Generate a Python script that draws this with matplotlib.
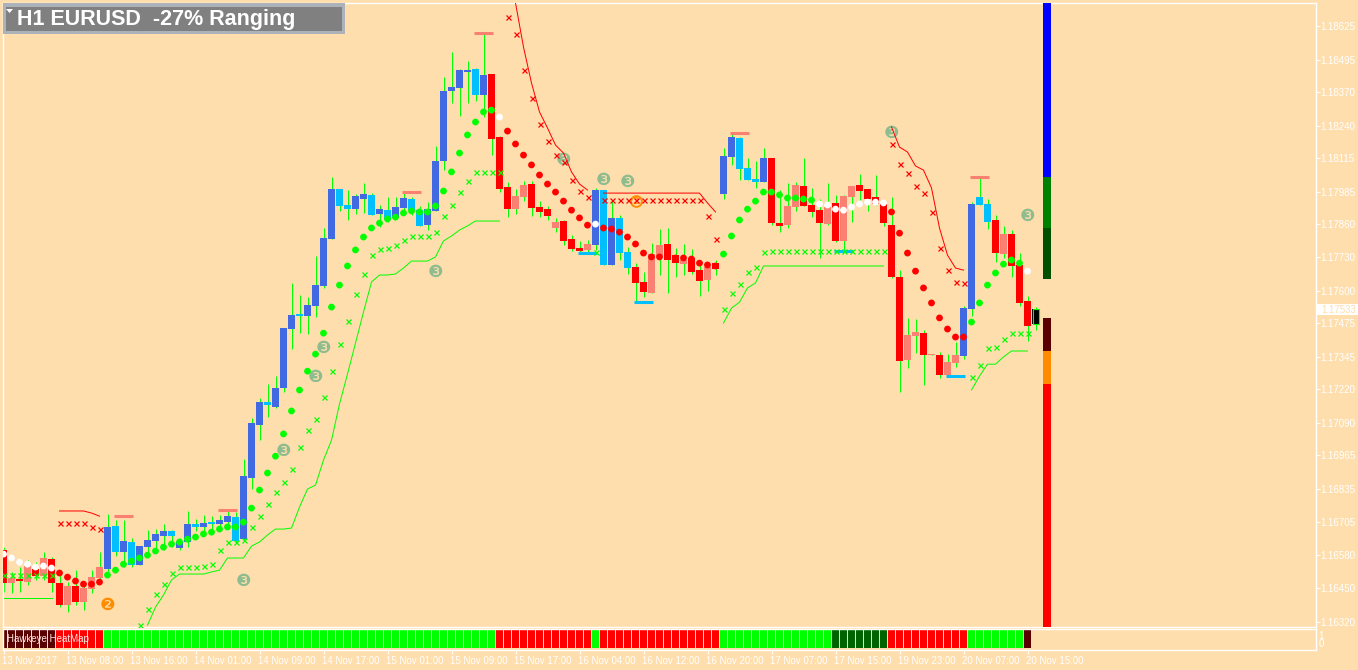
import matplotlib
matplotlib.use('Agg')
import matplotlib.pyplot as plt
from matplotlib.patches import Rectangle, Polygon
from matplotlib.transforms import ScaledTranslation
import numpy as np

W, H = 1358, 670

# candles, prices in 1e-5 units, one entry per H1 bar
candle_top = [
    116598,116489,116485,116536,116524,116567,116563,116470,116458,116458,
    116451,116493,116532,116687,116691,116632,116629,116613,116636,116660,
    116671,116671,116632,116698,116698,116702,116706,116714,116729,116725,
    116884,117089,117170,117170,117225,117457,117507,117511,117546,117623,
    117805,117995,117995,117933,117968,117975,117972,117917,117913,117925,
    117960,117956,117913,117917,118103,118374,118389,118455,118455,118459,
    118436,118440,118196,118002,117968,118010,118014,117925,117917,117867,
    117871,117801,117766,117782,117991,117991,117883,117883,117751,117693,
    117635,117743,117778,117782,117739,117720,117728,117681,117693,117708,
    118122,118196,118192,118076,118033,118115,118115,117863,117929,118010,
    118006,117933,117913,117925,117941,117968,118006,118010,117995,117964,
    117937,117855,117654,117430,117441,117437,117356,117352,117325,117352,
    117534,117937,117964,117937,117875,117821,117821,117701,117561,117530]
candle_bottom = [
    116470,116470,116478,116474,116497,116497,116470,116385,116385,116396,
    116396,116447,116489,116524,116590,116590,116540,116540,116609,116632,
    116652,116652,116605,116629,116687,116687,116698,116698,116706,116632,
    116640,116876,117081,117159,117151,117225,117453,117503,117503,117542,
    117619,117801,117929,117917,117917,117956,117894,117898,117875,117883,
    117921,117913,117852,117855,117910,118103,118374,118386,118448,118359,
    118359,118188,117995,117917,117917,117964,117921,117906,117890,117844,
    117794,117763,117755,117759,117778,117701,117701,117747,117689,117631,
    117596,117592,117735,117720,117708,117704,117674,117639,117643,117685,
    117975,118119,118072,118030,118022,118022,117863,117852,117855,117925,
    117929,117906,117863,117859,117794,117794,117964,117987,117956,117937,
    117863,117654,117329,117333,117426,117352,117352,117275,117275,117321,
    117348,117530,117933,117867,117747,117743,117697,117554,117465,117472]
candle_high = [
    116609,116513,116532,116559,116551,116590,116571,116513,116474,116520,
    116474,116520,116590,116737,116714,116714,116644,116613,116675,116679,
    116698,116675,116644,116749,116718,116733,116729,116733,116756,116745,
    116950,117109,117186,117240,117271,117457,117631,117585,117577,117735,
    117844,118041,117995,117991,117975,118018,117979,117933,117964,117964,
    117987,117964,117929,117944,118161,118428,118525,118459,118490,118463,
    118598,118440,118200,118022,117995,118026,118026,117948,117929,117883,
    117875,117817,117794,117797,117999,117991,117952,117894,117770,117708,
    117674,117786,117840,117844,117766,117782,117763,117701,117712,117720,
    118153,118211,118196,118115,118103,118153,118115,117991,118018,118022,
    118115,117999,117956,118018,117972,117972,118006,118053,117995,118049,
    117937,117964,117681,117496,117492,117449,117356,117364,117356,117403,
    117542,117944,118041,117956,117894,117852,117836,117747,117581,117538]
candle_low = [
    116435,116431,116435,116462,116482,116482,116435,116377,116358,116385,
    116365,116431,116470,116501,116574,116532,116532,116540,116586,116605,
    116598,116609,116598,116609,116671,116667,116675,116675,116687,116629,
    116636,116834,117023,117112,117147,117209,117376,117437,117434,117499,
    117612,117801,117910,117875,117898,117902,117894,117848,117867,117879,
    117913,117894,117852,117836,117910,118068,118328,118277,118328,118335,
    118273,118126,117983,117886,117898,117948,117890,117886,117875,117828,
    117778,117755,117747,117747,117759,117701,117701,117720,117666,117557,
    117577,117592,117662,117592,117654,117662,117666,117581,117600,117662,
    117956,118088,118030,118030,117999,118022,117855,117828,117844,117910,
    117929,117886,117728,117855,117790,117755,117867,117952,117910,117933,
    117852,117650,117209,117302,117360,117236,117352,117263,117275,117306,
    117337,117503,117933,117840,117712,117728,117654,117542,117406,117449]
# R red, S salmon, B blue, C sky, K the live bar
candle_kind = ("RSRSRSRRSRSSS" "BCBCBBBBCBBCBCBBC" "BBBCBBBCBBBBCCBBCBCBBCCBBBBBBCB"
               "RRRSSRRRSRRRS" "BCBCC" "RRSSRRSRRSR" "BBCCCB"
               "RRSSRRRSRSSRRRRRRSSRSRSS" "BBCCRSRRRK")

# dots, one per bar except the last one
dot_price = [
    116582,116567,116551,116543,116532,116536,116528,116509,116493,116478,
    116466,116466,116474,116501,116520,116543,116555,116567,116578,116594,
    116609,116621,116629,116640,116648,116660,116667,116679,116687,116687,
    116706,116760,116830,116896,116961,117047,117136,117217,117290,117356,
    117437,117538,117623,117697,117759,117809,117844,117863,117879,117886,
    117902,117910,117906,117906,117929,117987,118061,118134,118204,118254,
    118293,118300,118273,118219,118169,118126,118088,118049,118014,117983,
    117948,117913,117883,117855,117859,117844,117840,117828,117809,117782,
    117747,117732,117732,117739,117728,117728,117724,117708,117701,117697,
    117743,117813,117875,117917,117948,117983,117983,117972,117960,117960,
    117956,117952,117937,117933,117917,117913,117925,117937,117944,117944,
    117941,117906,117824,117747,117677,117612,117554,117496,117453,117422,
    117422,117480,117554,117623,117670,117704,117720,117708,117677]
dot_runs = [(7,'W'),(6,'R'),(49,'L'),(1,'W'),(11,'R'),(1,'W'),(15,'R'),(12,'L'),(9,'W'),(10,'R'),(7,'L'),(1,'W')]

# small crosses
buy_cross_bars = list(range(0,7)) + list(range(17,63)) + [74] + list(range(90,111)) + list(range(121,129))
buy_cross_price = [116501]*7 + [
    116307,116369,116427,116466,116509,116532,116532,116532,116536,116543,116598,
    116629,116629,116636,116687,116729,116776,116822,116861,116911,116996,
    117062,117105,117190,117290,117395,117484,117588,117666,117739,117763,117766,
    117778,117797,117813,117813,117813,117828,117890,117933,117983,118026,
    118061,118061,118061,118061] + [117751] + [
    117530,117592,117627,117674,117693,117751] + [117755]*15 + [
    117267,117314,117379,117383,117414,117437,117437,117437]
sell_cross_bars = list(range(7,13)) + list(range(63,74)) + list(range(75,90)) + list(range(111,121))
sell_cross_price = [116702,116702,116702,116702,116687,116679,
    118660,118595,118455,118347,118246,118180,118126,118099,118030,117987,117964] + [117952]*13 + [
    117890,117801,
    118169,118091,118057,118006,117979,117906,117766,117681,117635,117631]

# stop lines, each piece is (first bar, prices)
lime_lines = [
    (0, [116412]*7),
    (18, [116307,116377,116424,116482,116505,116505,116505,116505,116513,116520,116567,116567,
          116567,116613,116629,116656,116679,116679,116683,116764,116834,116849,116946,117023,
          117163,117279,117399,117519,117635,117662,117662,117666,117689,117716,117716,117716,
          117732,117794,117813,117836,117852,117871,117871,117871,117871]),
    (90, [117476,117534,117557,117612,117631] + [117697]*16),
    (121, [117217,117271,117317,117317,117345,117368,117368,117368]),
]
red_lines = [
    (7, [116749,116749,116749,116749,116741,116729]),
    (64, [118715,118544,118405,118293,118231,118165,118134,118061,118014,117991]),
    (75, [117979]*13 + [117941,117906]),
    (111, [118235,118157,118138,118084,118068,117999,117844,117739,117689,117681]),
]

# short flat marks above highs and below lows
top_mark_bars = [15, 28, 51, 60, 92, 122]
top_mark_price = [116729, 116752, 117983, 118598, 118211, 118041]
low_mark_bars = [73, 80, 105, 119]
low_mark_price = [117747, 117557, 117755, 117271]

# numbered signals
green_three_bars = [30, 35, 39, 40, 54, 70, 75, 78, 111, 128]
green_three_price = [116478, 116981, 117267, 117379, 117674, 118107, 118030, 118022, 118211, 117890]
orange_two_bars = [13, 79]
orange_two_price = [116385, 117948]

# strength column on the right: (price from, price to, colour)
strength_edges = [118716, 118041, 117844, 117646]
strength_colors = ['#0000FF', '#008000', '#005000']
weak_edges = [117496, 117368, 117240, 116302]
weak_colors = ['#5A0000', '#FF8C00', '#FF0000']

# heatmap panel
heat_runs = [(7,'D'),(6,'R'),(49,'L'),(12,'R'),(1,'L'),(15,'R'),(14,'L'),(7,'G'),(10,'R'),(7,'L'),(1,'D')]

price_ticks = ['1.18625','1.18495','1.18370','1.18240','1.18115','1.17985','1.17860','1.17730','1.17600',
               '1.17475','1.17345','1.17220','1.17090','1.16965','1.16835','1.16705','1.16580','1.16450','1.16320']
time_labels = ['13 Nov 2017','13 Nov 08:00','13 Nov 16:00','14 Nov 01:00','14 Nov 09:00','14 Nov 17:00',
               '15 Nov 01:00','15 Nov 09:00','15 Nov 17:00','16 Nov 04:00','16 Nov 12:00','16 Nov 20:00',
               '17 Nov 07:00','17 Nov 15:00','19 Nov 23:00','20 Nov 07:00','20 Nov 15:00']
last_price = 1.17533

BG = '#FFDEAD'
LIME = '#00FF00'
RED = '#FF0000'
candle_colors = {'R': RED, 'S': '#FA8072', 'B': '#4169E1', 'C': '#00BFFF', 'K': '#000000'}
dot_colors = {'W': '#FFFFFF', 'R': RED, 'L': LIME}
heat_colors = {'D': '#5A0000', 'R': RED, 'L': LIME, 'G': '#006400'}
TICKFONT = {'family': 'Liberation Sans', 'size': 7, 'color': 'white'}


def expand(runs, table):
    out = []
    for n, k in runs:
        out += [table[k]] * n
    return out


def pts(v):
    return np.array(v) / 1e5


def axes_box(left, top, right, bottom):
    return [left / W, 1 - bottom / H, (right - left) / W, (bottom - top) / H]


fig = plt.figure(figsize=(W / 100, H / 100), dpi=100, facecolor=BG)
ax = fig.add_axes(axes_box(2.5, 2.5, 1315.5, 626.5), facecolor=BG)
ax.set_xlim(-0.125, 164.0)
ax.set_ylim(1.16302, 1.187165)

bars = np.arange(len(candle_top))

### wicks then bodies
ax.vlines(bars, pts(candle_low), pts(candle_high), colors=LIME, lw=0.72, zorder=2)
body_colors = [candle_colors[k] for k in candle_kind]
heights = pts(candle_top) - pts(candle_bottom)
ax.bar(bars, heights, bottom=pts(candle_bottom), width=0.875, color=body_colors, lw=0,
       antialiased=False, zorder=3)
# the live bar has a lime outline
ax.bar(bars[-1], heights[-1], bottom=pts(candle_bottom)[-1], width=0.75, facecolor='black',
       edgecolor=LIME, lw=0.8, zorder=3.5)

### signals sit under the lines and dots
for b, p in zip(green_three_bars, pts(green_three_price)):
    ax.text(b, p, '\u2778', color='#8FBC8F', fontsize=12.5, ha='center', va='center', zorder=3.8)
ax.text(orange_two_bars[0], pts(orange_two_price)[0], '\u2777', color='#FF8C00', fontsize=12.5,
        ha='center', va='center', zorder=3.8)
# second one is only a ring round the digit
ax.scatter(orange_two_bars[1], pts(orange_two_price)[1], s=60, facecolor=BG, edgecolor='#FF8C00',
           lw=1.4, zorder=3.8)
ax.text(orange_two_bars[1], pts(orange_two_price)[1], '2', color='#FF8C00', fontsize=6.5, weight='bold',
        ha='center', va='center', zorder=3.9)

### stop lines
for first, prices in lime_lines:
    ax.plot(first + np.arange(len(prices)), pts(prices), color=LIME, lw=0.72, zorder=4)
for first, prices in red_lines:
    ax.plot(first + np.arange(len(prices)), pts(prices), color=RED, lw=0.72, zorder=4)

### crosses and dots
ax.plot(buy_cross_bars, pts(buy_cross_price), 'x', color=LIME, ms=3.6, mew=0.9, zorder=5)
ax.plot(sell_cross_bars, pts(sell_cross_price), 'x', color=RED, ms=3.6, mew=0.9, zorder=5)
ax.scatter(np.arange(len(dot_price)), pts(dot_price), s=24, c=expand(dot_runs, dot_colors), lw=0, zorder=6)

### fractal marks
ax.hlines(pts(top_mark_price), np.array(top_mark_bars) - 1.15, np.array(top_mark_bars) + 1.15,
          colors='#FA8072', lw=2.2, zorder=4)
ax.hlines(pts(low_mark_price), np.array(low_mark_bars) - 1.15, np.array(low_mark_bars) + 1.15,
          colors='#00BFFF', lw=2.2, zorder=4)

### strength column
ax.bar([130.44] * 3, -np.diff(strength_edges) / 1e5, bottom=np.array(strength_edges[1:]) / 1e5, width=1.0,
       color=strength_colors, lw=0, antialiased=False, zorder=3)
ax.bar([130.44] * 3, -np.diff(weak_edges) / 1e5, bottom=np.array(weak_edges[1:]) / 1e5, width=1.0,
       color=weak_colors, lw=0, antialiased=False, zorder=3)

### price axis
ax.set_xticks([])
ax.yaxis.tick_right()
ax.set_yticks([float(t) for t in price_ticks])
ax.set_yticklabels(price_ticks, **TICKFONT)
ax.tick_params(axis='y', length=3, width=0.8, color='white', pad=0.8)
for s in ax.spines.values():
    s.set_color('white')
    s.set_linewidth(1.0)

### heatmap panel
axh = fig.add_axes(axes_box(2.5, 628.5, 1315.5, 649.5), facecolor=BG)
axh.set_xlim(-0.125, 164.0)
axh.set_ylim(-0.81, 1.81)
heat = expand(heat_runs, heat_colors)
axh.bar(np.arange(len(heat)), 2.375, bottom=-0.625, width=0.875, color=heat, lw=0, antialiased=False)
axh.text(0.4, 0.55, 'Hawkeye HeatMap', color='#FFE4E1', fontsize=7, family='Liberation Sans',
         ha='left', va='center', zorder=5)
axh.yaxis.tick_right()
axh.set_yticks([1, 0])
axh.set_yticklabels(['1', '0'], **TICKFONT)
axh.tick_params(axis='y', length=0, pad=2.2)
axh.set_xticks(np.arange(len(time_labels)) * 8)
axh.set_xticklabels(time_labels, ha='left', **TICKFONT)
axh.tick_params(axis='x', length=3, width=0.8, color='white', pad=1.5)
shift = ScaledTranslation(-1.0 / 100, 0, fig.dpi_scale_trans)
for lab in axh.get_xticklabels():
    lab.set_transform(lab.get_transform() + shift)
for s in axh.spines.values():
    s.set_color('white')
    s.set_linewidth(1.0)


def px_rect(x0, y0, x1, y1, **kw):
    fig.add_artist(Rectangle((x0 / W, 1 - y1 / H), (x1 - x0) / W, (y1 - y0) / H,
                             transform=fig.transFigure, lw=0, **kw))


### last price tag
px_rect(1317, 304, 1358, 315, color='white', zorder=10)
fig.text(1321 / W, 1 - 309.5 / H, '%.5f' % last_price, color=BG, family='Liberation Sans', size=7,
         va='center', ha='left', zorder=11)

### title box
px_rect(3, 3, 345, 34, color='#ABB2B9', zorder=10)
px_rect(6, 7, 342, 31, color='#808080', zorder=11)
fig.add_artist(Polygon([[6 / W, 1 - 9 / H], [13 / W, 1 - 9 / H], [9.5 / W, 1 - 13 / H]], closed=True,
                       transform=fig.transFigure, color='white', lw=0, zorder=12))
fig.text(17 / W, 1 - 19.5 / H, 'H1 EURUSD  -27% Ranging', color='white', family='Liberation Sans',
         weight='bold', size=15.5, va='center', ha='left', zorder=12)

fig.savefig('out.png', dpi=100, facecolor=BG)
